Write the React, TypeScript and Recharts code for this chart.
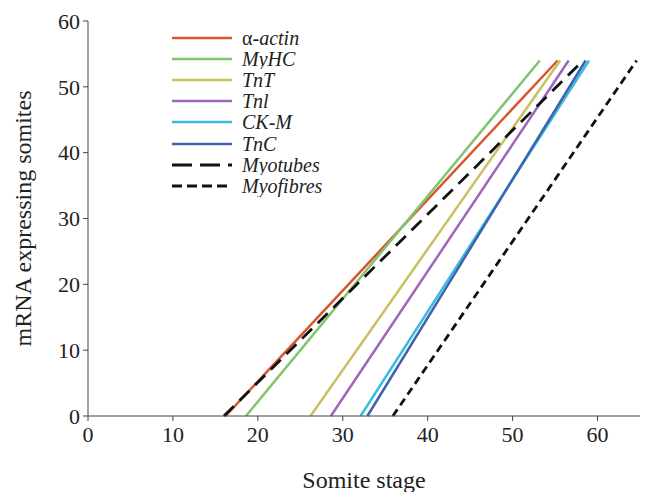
import React from 'react';
import { LineChart, Line, XAxis, YAxis, Legend } from 'recharts';

const xTicks = [0, 10, 20, 30, 40, 50, 60];
const yTicks = [0, 10, 20, 30, 40, 50, 60];

const alphaActin = [{ x: 16.2, y: 0 }, { x: 55.3, y: 54 }];
const myhc = [{ x: 18.6, y: 0 }, { x: 53.2, y: 54 }];
const tnt = [{ x: 26.2, y: 0 }, { x: 55.6, y: 54 }];
const tni = [{ x: 28.6, y: 0 }, { x: 56.6, y: 54 }];
const ckm = [{ x: 32.1, y: 0 }, { x: 59.0, y: 54 }];
const tnc = [{ x: 32.9, y: 0 }, { x: 58.6, y: 54 }];
const myotubes = [{ x: 16.0, y: 0 }, { x: 58.3, y: 54 }];
const myofibres = [{ x: 35.9, y: 0 }, { x: 64.6, y: 54 }];

const seriesList = [
  { key: 'actin', name: 'α-actin', data: alphaActin, color: '#d9552e', dash: undefined, width: 2.5 },
  { key: 'myhc', name: 'MyHC', data: myhc, color: '#80c46e', dash: undefined, width: 2.5 },
  { key: 'tnt', name: 'TnT', data: tnt, color: '#c9c062', dash: undefined, width: 2.5 },
  { key: 'tni', name: 'Tnl', data: tni, color: '#9b66bb', dash: undefined, width: 2.5 },
  { key: 'ckm', name: 'CK-M', data: ckm, color: '#3bbcdc', dash: undefined, width: 2.5 },
  { key: 'tnc', name: 'TnC', data: tnc, color: '#3d63b1', dash: undefined, width: 2.5 },
  { key: 'myotubes', name: 'Myotubes', data: myotubes, color: '#111111', dash: '14 8', width: 2.8 },
  { key: 'myofibres', name: 'Myofibres', data: myofibres, color: '#111111', dash: '8 5', width: 2.8 },
];

const FONT = "Liberation Serif, DejaVu Serif, serif";

const LegendContent = () => (
  <div style={{ fontFamily: FONT, fontSize: 20, color: '#222' }}>
    {seriesList.map((s) => (
      <div key={s.key} style={{ display: 'flex', alignItems: 'center', height: 21.2, overflow: 'hidden' }}>
        <svg width={64} height={10} style={{ marginRight: 8, flex: 'none' }}>
          <line x1={2} y1={5} x2={62} y2={5} stroke={s.color} strokeWidth={s.width} strokeDasharray={s.key === 'myotubes' ? '20 8' : s.key === 'myofibres' ? '10 5' : undefined} />
        </svg>
        <span style={{ display: 'inline-block', lineHeight: '20px', height: 20, whiteSpace: 'nowrap' }}>
          {s.key === 'actin' ? (
            <>
              <span style={{ display: 'inline-block', lineHeight: '20px', height: 20 }}>α</span>
              <span style={{ display: 'inline-block', lineHeight: '20px', height: 20, fontStyle: 'italic' }}>-actin</span>
            </>
          ) : (
            <span style={{ display: 'inline-block', lineHeight: '20px', height: 20, fontStyle: 'italic' }}>{s.name}</span>
          )}
        </span>
      </div>
    ))}
  </div>
);

export default function App() {
  return (
    <LineChart width={648} height={484} margin={{ top: 13, right: 16, left: 0, bottom: 0 }} style={{ fontFamily: FONT }}>
      <XAxis
        type="number"
        dataKey="x"
        domain={[0, 65]}
        ticks={xTicks}
        tickSize={5}
        tickMargin={5}
        stroke="#444"
        tick={{ fill: '#222', fontSize: 22, fontFamily: FONT }}
        height={76}
        label={{ value: 'Somite stage', position: 'insideBottom', offset: 4, style: { fontSize: 24, fontFamily: FONT, fill: '#222' } }}
      />
      <YAxis
        type="number"
        domain={[0, 60]}
        ticks={yTicks}
        tickSize={5}
        tickMargin={3}
        width={80}
        stroke="#444"
        tick={{ fill: '#222', fontSize: 22, fontFamily: FONT }}
        label={{ value: 'mRNA expressing somites', angle: -90, position: 'insideLeft', offset: 14, style: { fontSize: 24, fontFamily: FONT, fill: '#222', textAnchor: 'middle' } }}
      />
      <Legend
        layout="vertical"
        align="center"
        verticalAlign="middle"
        content={<LegendContent />}
        wrapperStyle={{ left: 162, top: 19, width: 220, height: 180 }}
      />
      {seriesList.map((s) => (
        <Line
          key={s.key}
          data={s.data}
          dataKey="y"
          name={s.name}
          stroke={s.color}
          strokeWidth={s.width}
          strokeDasharray={s.dash}
          dot={false}
          activeDot={false}
          isAnimationActive={false}
        />
      ))}
    </LineChart>
  );
}
